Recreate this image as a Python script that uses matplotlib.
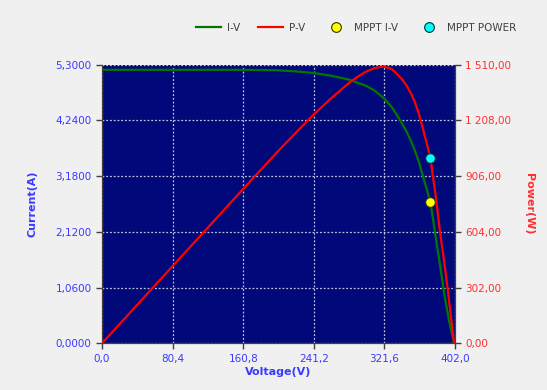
import matplotlib
matplotlib.use('Agg')
import matplotlib.pyplot as plt
from matplotlib.ticker import FuncFormatter

# values
voltage = [0, 40, 80, 120, 160, 200, 220, 240, 260, 282, 290, 300, 310, 321,
           330, 337, 342, 347, 352, 356, 361, 366, 370, 374, 377, 380, 383,
           385, 388, 390, 393, 395, 398, 401]
current = [5.20, 5.20, 5.20, 5.20, 5.20, 5.19, 5.17, 5.14, 5.09, 5.01, 4.96,
           4.90, 4.81, 4.66, 4.49, 4.31, 4.17, 4.02, 3.84, 3.68, 3.44, 3.15,
           2.92, 2.68, 2.36, 2.02, 1.70, 1.48, 1.14, 0.92, 0.64, 0.45, 0.22, 0.0]
power = [0, 208, 416, 624, 832, 1038, 1137, 1234, 1323, 1413, 1440, 1470,
         1490, 1500, 1485, 1453, 1428, 1395, 1352, 1310, 1242, 1153, 1080,
         1003, 900, 800, 680, 600, 500, 430, 320, 240, 120, 0]
mppt_v = 374
mppt_i = 2.68
mppt_p = 1003

x_ticks = [0, 80.4, 160.8, 241.2, 321.6, 402.0]
i_ticks = [0, 1.06, 2.12, 3.18, 4.24, 5.30]
p_ticks = [0, 302, 604, 906, 1208, 1510]

blue = '#3a3aff'
red_txt = '#ff3030'
bg = '#f0f0f0'

fig = plt.figure(figsize=(5.47, 3.9), dpi=100, facecolor=bg)
ax = fig.add_axes([0.1865, 0.1197, 0.6453, 0.7149])
ax.set_facecolor('#00087a')
ax2 = ax.twinx()

l1, = ax.plot(voltage, current, color='#007800', lw=1.6, label='I-V', zorder=3)
l2, = ax2.plot(voltage, power, color='#ff0000', lw=1.6, label='P-V', zorder=3)
m1, = ax.plot([mppt_v], [mppt_i], 'o', ms=7, mfc='#ffff00', mec='#333300',
              mew=0.8, label='MPPT I-V', zorder=5)
m2, = ax2.plot([mppt_v], [mppt_p], 'o', ms=7, mfc='#00ffff', mec='#003333',
               mew=0.8, label='MPPT POWER', zorder=5)

ax.set_xlim(0, 402)
ax.set_ylim(0, 5.3)
ax2.set_ylim(0, 1510)
ax.set_xticks(x_ticks)
ax.set_yticks(i_ticks)
ax2.set_yticks(p_ticks)

ax.xaxis.set_major_formatter(FuncFormatter(lambda v, p: f'{v:.1f}'.replace('.', ',')))
ax.yaxis.set_major_formatter(FuncFormatter(lambda v, p: f'{v:.4f}'.replace('.', ',')))
ax2.yaxis.set_major_formatter(FuncFormatter(
    lambda v, p: f'{v:,.2f}'.replace(',', ' ').replace('.', ',')))

ax.grid(True, color='#c0c0e0', linestyle=(0, (1.5, 1.5)), lw=0.9)
for a in (ax, ax2):
    a.tick_params(direction='out', length=4, width=1, color='#404040', labelsize=7.5)
    for s in a.spines.values():
        s.set_color('#404040')
    a.spines['top'].set_visible(False)
ax.tick_params(axis='x', colors='#404040', labelcolor=blue)
ax.tick_params(axis='y', colors='#404040', labelcolor=blue)
ax2.tick_params(axis='y', colors='#404040', labelcolor=red_txt)

ax.set_xlabel('Voltage(V)', color=blue, fontsize=8, fontweight='bold', labelpad=2)
ax.set_ylabel('Current(A)', color=blue, fontsize=8, fontweight='bold', labelpad=13)
ax2.set_ylabel('Power(W)', color=red_txt, fontsize=8, fontweight='bold',
               rotation=270, labelpad=16)

fig.legend(handles=[l1, l2, m1, m2], loc='center', bbox_to_anchor=(0.651, 0.928),
           ncol=4, frameon=False, fontsize=7.5, labelcolor='#404040',
           handlelength=2.4, handletextpad=0.6, columnspacing=1.7)

fig.savefig('out.png', dpi=100, facecolor=bg)
